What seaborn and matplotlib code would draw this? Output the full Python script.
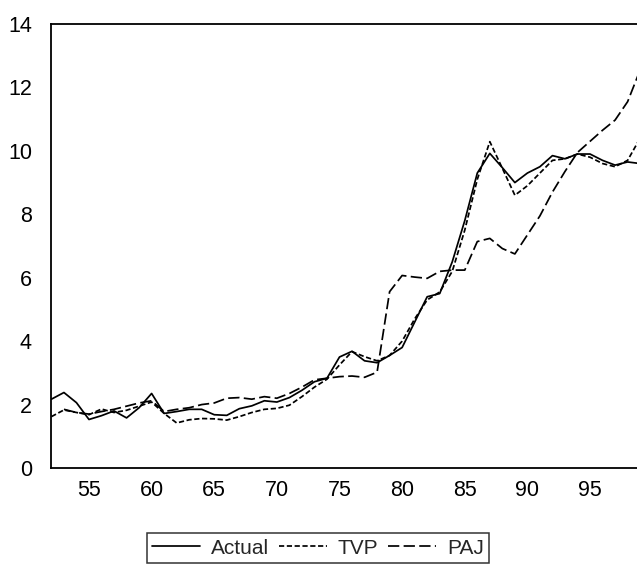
import numpy as np
import pandas as pd
import matplotlib
matplotlib.use("Agg")
import matplotlib.pyplot as plt
import seaborn as sns

# Annual observations, 1952-1999 (two-digit year labels)
years = list(range(52, 100))

actual = [2.17, 2.38, 2.06, 1.53, 1.65, 1.80, 1.58, 1.90, 2.35, 1.72,
          1.78, 1.85, 1.85, 1.68, 1.66, 1.87, 1.96, 2.12, 2.08, 2.22,
          2.45, 2.72, 2.83, 3.50, 3.68, 3.38, 3.32, 3.55, 3.80, 4.60,
          5.40, 5.50, 6.50, 7.80, 9.30, 9.92, 9.47, 9.00, 9.30, 9.50,
          9.85, 9.75, 9.90, 9.90, 9.70, 9.55, 9.65, 9.60]

tvp = [1.62, 1.83, 1.75, 1.68, 1.86, 1.75, 1.82, 1.95, 2.08, 1.72,
       1.42, 1.52, 1.56, 1.55, 1.51, 1.62, 1.75, 1.85, 1.88, 1.98,
       2.25, 2.55, 2.80, 3.25, 3.67, 3.51, 3.38, 3.55, 4.00, 4.70,
       5.30, 5.55, 6.20, 7.50, 9.10, 10.29, 9.45, 8.60, 8.90, 9.30,
       9.70, 9.75, 9.90, 9.80, 9.60, 9.50, 9.70, 10.40]

paj = [np.nan, 1.85, 1.75, 1.70, 1.78, 1.85, 1.95, 2.05, 2.12, 1.78,
       1.85, 1.90, 2.00, 2.05, 2.20, 2.22, 2.17, 2.25, 2.20, 2.35,
       2.55, 2.78, 2.83, 2.88, 2.90, 2.86, 3.02, 5.56, 6.07, 6.02,
       5.98, 6.20, 6.24, 6.24, 7.14, 7.24, 6.92, 6.75, 7.35, 7.95,
       8.70, 9.35, 9.95, 10.30, 10.65, 10.97, 11.55, 12.55]

y_ticks = [0, 2, 4, 6, 8, 10, 12, 14]
x_ticks = [55, 60, 65, 70, 75, 80, 85, 90, 95]

sns.set_style("white")
plt.rcParams["font.family"] = ["Liberation Sans", "DejaVu Sans"]

fig = plt.figure(figsize=(6.37, 5.73), dpi=100)
ax = fig.add_axes([51.4 / 637, 1 - 468 / 573, 1 - 51.4 / 637, (468 - 24) / 573])

series = [("Actual", actual, None),
          ("TVP", tvp, (3.0, 1.5)),
          ("PAJ", paj, (6.5, 2.5))]

for name, vals, dash in series:
    sns.lineplot(x=years, y=vals, ax=ax, color="black", linewidth=1.25, label=name)
    if dash is not None:
        ax.lines[-1].set_dashes(dash)

ax.set_yticks(y_ticks)
ax.set_xticks(x_ticks)
ax.set_xticks(years, minor=True)
ax.set_xticklabels([str(t) for t in x_ticks])
ax.set_yticklabels([str(t) for t in y_ticks])
# limits last: set_xticks would otherwise widen the view to the last minor tick
ax.set_xlim(52, 98.75)
ax.set_ylim(0, 14)

ax.tick_params(axis="both", which="both", direction="out", color="black",
               labelsize=15.5, labelcolor="black")
ax.tick_params(axis="x", which="major", length=7, width=1.1, pad=2)
ax.tick_params(axis="x", which="minor", length=3.6, width=1.0)
ax.tick_params(axis="y", which="major", length=5, width=1.1, pad=9)

for side in ["left", "bottom", "top"]:
    ax.spines[side].set_visible(True)
    ax.spines[side].set_color("black")
    ax.spines[side].set_linewidth(1.3)
ax.spines["right"].set_visible(False)
ax.set_xlabel("")
ax.set_ylabel("")

handles, labels = ax.get_legend_handles_labels()
ax.legend_.remove()
leg = fig.legend(handles, labels, loc="center", bbox_to_anchor=(318 / 637, 1 - 548 / 573),
                 ncol=3, frameon=True, fancybox=False, edgecolor="black",
                 fontsize=15, handlelength=2.3, handletextpad=0.55,
                 columnspacing=0.45, borderpad=0.25, borderaxespad=0)
leg.get_frame().set_linewidth(1.1)

fig.savefig("out.png", dpi=100, facecolor="white")
